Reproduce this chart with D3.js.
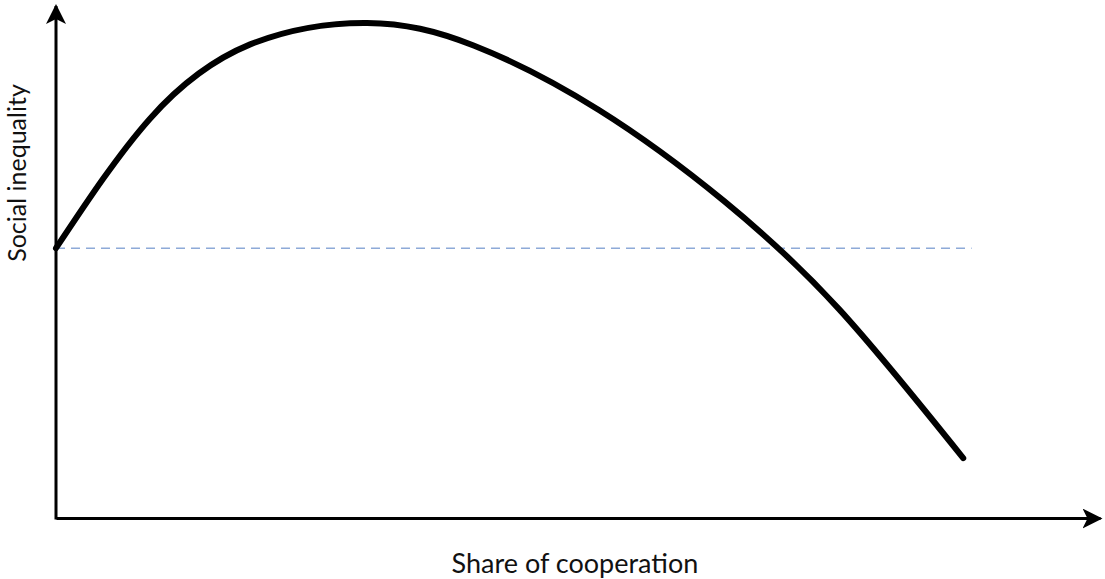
<!DOCTYPE html>
<html lang="en">
<head>
  <meta charset="UTF-8">
  <title>Social inequality vs share of cooperation</title>
  <script src="https://d3js.org/d3.v7.min.js"></script>
  <style>
    body {
      margin: 0;
      background: #fff;
      font-family: Lato, "Open Sans", sans-serif;
    }

    svg {
      display: block;
    }
  </style>
</head>
<body>
  <svg width="1105" height="579"></svg>

  <script>
    // curve (abstract units, 0-100 on both axes)
    const shareOfCooperation = [0, 9.0, 18.6, 29.8, 40.0, 52.0, 64.0, 75.0, 86.9];
    const socialInequality = [52.7, 78.0, 92.5, 96.7, 92.3, 79.7, 61.9, 40.8, 11.7];

    // reference level (starting inequality) and how far its dashed line runs
    const baselineLevel = 52.7;
    const baselineEnd = 87.7;

    const xLabel = "Share of cooperation";
    const yLabel = "Social inequality";

    const svg = d3.select("svg");

    const x = d3.scaleLinear().domain([0, 100]).range([56, 1100]);
    const y = d3.scaleLinear().domain([0, 100]).range([518, 6]);

    // arrowheads
    const defs = svg.append("defs");
    defs.append("marker")
      .attr("id", "arrow")
      .attr("viewBox", "0 -10 20 20")
      .attr("refX", 18)
      .attr("refY", 0)
      .attr("markerWidth", 20)
      .attr("markerHeight", 20)
      .attr("markerUnits", "userSpaceOnUse")
      .attr("orient", "auto")
      .append("path")
      .attr("d", "M0,-10L20,0L0,10L5,0Z")
      .attr("fill", "#000");

    // axes: just the domain line, no ticks
    const xAxis = svg.append("g")
      .attr("transform", `translate(0,${y(0)})`)
      .call(d3.axisBottom(x).tickValues([]).tickSizeOuter(0));
    xAxis.select(".domain")
      .attr("stroke", "#000")
      .attr("stroke-width", 3)
      .attr("marker-end", "url(#arrow)");

    const yAxis = svg.append("g")
      .attr("transform", `translate(${x(0)},0)`)
      .call(d3.axisLeft(y).tickValues([]).tickSizeOuter(0));
    // draw bottom -> top so the marker sits at the top
    yAxis.select(".domain")
      .attr("d", `M0,${y(0) + 1.5}V${y(100)}`)
      .attr("stroke", "#000")
      .attr("stroke-width", 3)
      .attr("marker-end", "url(#arrow)");

    // dashed reference line
    svg.append("line")
      .attr("x1", x(0))
      .attr("x2", x(baselineEnd))
      .attr("y1", y(baselineLevel))
      .attr("y2", y(baselineLevel))
      .attr("stroke", "#8eaad8")
      .attr("stroke-width", 1.5)
      .attr("stroke-dasharray", "9,6");

    // curve
    const points = shareOfCooperation.map((d, i) => [d, socialInequality[i]]);
    const line = d3.line()
      .x(d => x(d[0]))
      .y(d => y(d[1]))
      .curve(d3.curveNatural);

    svg.append("path")
      .datum(points)
      .attr("d", line)
      .attr("fill", "none")
      .attr("stroke", "#000")
      .attr("stroke-width", 6)
      .attr("stroke-linecap", "round")
      .attr("stroke-linejoin", "round");

    // labels
    svg.append("text")
      .attr("x", 575)
      .attr("y", 573)
      .attr("text-anchor", "middle")
      .attr("font-size", 27)
      .attr("fill", "#111")
      .text(xLabel);

    svg.append("text")
      .attr("transform", `translate(26,173) rotate(-90)`)
      .attr("text-anchor", "middle")
      .attr("font-size", 25)
      .attr("fill", "#111")
      .text(yLabel);
  </script>
</body>
</html>
